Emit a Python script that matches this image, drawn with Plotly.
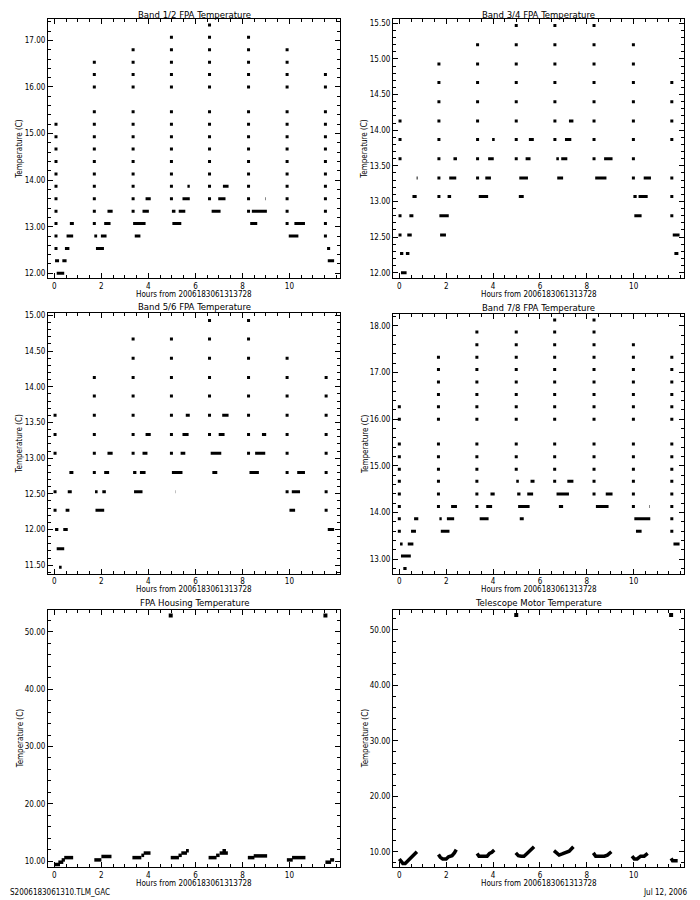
import plotly.graph_objects as go

# The page adds an 8px body margin; the figure is sized so it fills the 700x900 window.
OFF = 8
W, H = 700 - OFF, 900 - OFF
FONT = "Liberation Sans Narrow, DejaVu Sans Condensed, Liberation Sans, sans-serif"

X_TITLE = "Hours from 2006183061313728"
Y_TITLE = "Temperature (C)"
X_RANGE = [-0.27, 12.15]
X_TICKS = [0, 2, 4, 6, 8, 10]

# ---------------- Band 1/2 ----------------
b12_col_x = [0.07, 1.70, 3.35, 4.98, 6.60, 8.26, 9.90, 11.53]
b12_col_y = [
    [15.20, 14.93, 14.67, 14.40, 14.13, 13.87, 13.60, 13.33, 13.07, 12.80, 12.53],
    [16.53, 16.27, 16.00, 15.47, 15.20, 14.93, 14.67, 14.40, 14.13, 13.87, 13.60, 13.33, 13.07],
    [16.80, 16.53, 16.27, 16.00, 15.47, 15.20, 14.93, 14.67, 14.40, 14.13, 13.87, 13.60, 13.33],
    [17.07, 16.80, 16.53, 16.27, 16.00, 15.47, 15.20, 14.93, 14.67, 14.40, 14.13, 13.87, 13.60],
    [17.33, 17.07, 16.80, 16.53, 16.27, 16.00, 15.47, 15.20, 14.93, 14.67, 14.40, 14.13, 13.87, 13.60],
    [17.07, 16.80, 16.53, 16.27, 16.00, 15.47, 15.20, 14.93, 14.67, 14.40, 14.13, 13.87, 13.60, 13.33],
    [16.80, 16.53, 16.27, 16.00, 15.47, 15.20, 14.93, 14.67, 14.40, 14.13, 13.87, 13.60, 13.33, 13.07],
    [16.27, 16.00, 15.47, 15.20, 14.93, 14.67, 14.40, 14.13, 13.87, 13.60, 13.33, 13.07, 12.80],
]
b12_runs = [
    (0.03, 0.20, 12.27), (0.10, 0.42, 12.00), (0.34, 0.52, 12.27), (0.45, 0.64, 12.53), (0.52, 0.80, 12.80), (0.66, 0.83, 13.07),
    (1.77, 2.11, 12.53), (1.70, 1.82, 12.80), (1.98, 2.22, 12.80), (2.12, 2.39, 13.07), (2.26, 2.48, 13.33),
    (3.35, 3.88, 13.07), (3.42, 3.66, 12.80), (3.75, 4.02, 13.33), (3.88, 4.10, 13.60),
    (5.00, 5.15, 13.33), (5.02, 5.40, 13.07), (5.29, 5.57, 13.33), (5.45, 5.76, 13.60), (5.66, 5.76, 13.87),
    (6.69, 7.07, 13.33), (6.97, 7.28, 13.60), (7.17, 7.41, 13.87),
    (8.33, 8.63, 13.07), (8.40, 9.04, 13.33), (8.97, 8.99, 13.60),
    (9.97, 10.38, 12.80), (10.21, 10.66, 13.07),
    (11.60, 11.73, 12.53), (11.63, 11.90, 12.27),
]

# ---------------- Band 3/4 ----------------
b34_col_x = [0.03, 1.69, 3.34, 4.99, 6.64, 8.31, 9.99, 11.63]
b34_col_y = [
    [14.13, 13.87, 13.60, 12.80, 12.53],
    [14.93, 14.67, 14.40, 14.13, 13.87, 13.60, 13.33, 13.07],
    [15.20, 14.93, 14.67, 14.40, 14.13, 13.87, 13.60, 13.33],
    [15.47, 15.20, 14.93, 14.67, 14.40, 14.13, 13.87, 13.60],
    [15.47, 15.20, 14.93, 14.67, 14.40, 14.13, 13.87],
    [15.47, 15.20, 14.93, 14.67, 14.40, 14.13, 13.87, 13.60],
    [15.20, 14.93, 14.67, 14.40, 14.13, 13.87, 13.60, 13.33],
    [14.67, 14.40, 14.13, 13.87, 13.33, 13.07, 12.80],
]
b34_runs = [
    (0.03, 0.17, 12.27), (0.28, 0.43, 12.27), (0.07, 0.31, 12.00), (0.34, 0.53, 12.53), (0.43, 0.60, 12.80), (0.56, 0.74, 13.07), (0.74, 0.78, 13.33),
    (1.71, 2.11, 12.80), (1.74, 1.99, 12.53), (2.06, 2.21, 13.07), (2.13, 2.43, 13.33), (2.31, 2.46, 13.60),
    (3.39, 3.79, 13.07), (3.67, 3.91, 13.33), (3.79, 4.03, 13.60), (3.96, 4.07, 13.87),
    (5.12, 5.49, 13.33), (5.10, 5.31, 13.07), (5.39, 5.60, 13.60), (5.53, 5.74, 13.87),
    (6.70, 6.81, 13.60), (6.74, 6.99, 13.33), (6.91, 7.17, 13.60), (7.07, 7.34, 13.87), (7.24, 7.43, 14.13),
    (8.36, 8.84, 13.33), (8.74, 9.10, 13.60),
    (9.99, 10.13, 13.07), (10.03, 10.34, 12.80), (10.21, 10.60, 13.07), (10.43, 10.74, 13.33),
    (11.67, 11.96, 12.53), (11.74, 11.91, 12.27),
]

# ---------------- Band 5/6 ----------------
b56_col_x = [0.03, 1.70, 3.35, 4.98, 6.60, 8.26, 9.90, 11.56]
b56_col_y = [
    [13.60, 13.33, 13.07, 12.53, 12.27],
    [14.13, 13.87, 13.60, 13.33, 13.07, 12.80],
    [14.67, 14.40, 14.13, 13.87, 13.60, 13.33, 13.07],
    [14.67, 14.40, 14.13, 13.87, 13.60, 13.33, 13.07],
    [14.93, 14.67, 14.40, 14.13, 13.87, 13.60, 13.33],
    [14.93, 14.67, 14.40, 14.13, 13.87, 13.60, 13.33, 13.07],
    [14.40, 14.13, 13.87, 13.60, 13.33, 13.07, 12.80, 12.53],
    [14.13, 13.87, 13.60, 13.33, 13.07, 12.80, 12.53, 12.27],
]
b56_runs = [
    (0.03, 0.17, 12.00), (0.10, 0.42, 11.73), (0.20, 0.31, 11.47), (0.38, 0.57, 12.00), (0.48, 0.64, 12.27), (0.57, 0.74, 12.53), (0.64, 0.81, 12.80),
    (1.73, 1.84, 12.53), (1.75, 2.12, 12.27), (2.04, 2.19, 12.53), (2.12, 2.33, 12.80), (2.26, 2.48, 13.07),
    (3.35, 3.49, 12.80), (3.39, 3.75, 12.53), (3.64, 3.88, 12.80), (3.75, 3.96, 13.07), (3.88, 4.10, 13.33),
    (5.00, 5.45, 12.80), (5.16, 5.17, 12.53), (5.37, 5.57, 13.07), (5.45, 5.71, 13.33), (5.59, 5.76, 13.60),
    (6.65, 7.10, 13.07), (6.72, 6.93, 12.80), (6.99, 7.24, 13.33), (7.14, 7.41, 13.60),
    (8.30, 8.70, 12.80), (8.54, 8.97, 13.07), (8.83, 9.01, 13.33),
    (10.10, 10.45, 12.53), (10.00, 10.24, 12.27), (10.33, 10.66, 12.80),
    (11.63, 11.90, 12.00),
]

# ---------------- Band 7/8 ----------------
b78_col_x = [0.00, 1.67, 3.31, 4.99, 6.63, 8.31, 9.99, 11.63]
b78_col_y = [
    [16.27, 16.00, 15.47, 15.20, 14.93, 14.67, 14.40, 14.13, 13.87, 13.60],
    [17.33, 17.07, 16.80, 16.53, 16.27, 16.00, 15.47, 15.20, 14.93, 14.67, 14.40, 14.13],
    [17.87, 17.60, 17.33, 17.07, 16.80, 16.53, 16.27, 16.00, 15.47, 15.20, 14.93, 14.67, 14.40, 14.13],
    [17.87, 17.60, 17.33, 17.07, 16.80, 16.53, 16.27, 16.00, 15.47, 15.20, 14.93],
    [18.13, 17.87, 17.60, 17.33, 17.07, 16.80, 16.53, 16.27, 16.00, 15.47, 15.20, 14.93, 14.67],
    [18.13, 17.87, 17.60, 17.33, 17.07, 16.80, 16.53, 16.27, 16.00, 15.47, 15.20, 14.93, 14.67, 14.40],
    [17.60, 17.33, 17.07, 16.80, 16.53, 16.27, 16.00, 15.47, 15.20, 14.93, 14.67, 14.40, 14.13],
    [17.33, 17.07, 16.80, 16.53, 16.27, 16.00, 15.47, 15.20, 14.93, 14.67, 14.40, 14.13, 13.87, 13.60],
]
b78_runs = [
    (0.03, 0.14, 13.33), (0.07, 0.49, 13.07), (0.17, 0.31, 12.80), (0.36, 0.60, 13.33), (0.50, 0.71, 13.60), (0.63, 0.81, 13.87),
    (1.71, 1.81, 13.87), (1.77, 2.14, 13.60), (2.03, 2.34, 13.87), (2.21, 2.46, 14.13),
    (3.43, 3.81, 13.87), (3.71, 3.96, 14.13), (3.89, 4.07, 14.40),
    (4.99, 5.10, 14.67), (5.03, 5.17, 14.40), (5.07, 5.56, 14.13), (5.14, 5.31, 13.87), (5.46, 5.71, 14.40), (5.60, 5.77, 14.67),
    (6.71, 7.24, 14.40), (6.81, 6.99, 14.13), (7.17, 7.43, 14.67),
    (8.39, 8.93, 14.13), (8.81, 9.10, 14.40),
    (10.03, 10.71, 13.87), (10.10, 10.34, 13.60), (10.66, 10.68, 14.13),
    (11.70, 11.96, 13.33),
]

# ---------------- FPA Housing ----------------
hous_runs = [
    (0.00, 0.24, 9.4), (0.17, 0.38, 9.8), (0.31, 0.45, 10.2), (0.42, 0.80, 10.6),
    (1.70, 2.00, 10.2), (2.00, 2.43, 10.8),
    (3.32, 3.70, 10.6), (3.70, 3.82, 11.0), (3.80, 4.09, 11.4),
    (4.95, 5.30, 10.6), (5.28, 5.42, 11.0), (5.40, 5.64, 11.4), (5.60, 5.72, 11.8),
    (6.56, 6.90, 10.6), (6.88, 7.03, 11.0), (7.03, 7.38, 11.4), (7.15, 7.30, 11.8),
    (8.23, 8.51, 10.6), (8.48, 9.05, 10.9),
    (9.89, 10.14, 10.2), (10.11, 10.68, 10.6),
    (11.53, 11.77, 9.8), (11.73, 11.90, 10.2),
]
hous_out_x = [4.95, 11.53]
hous_out_y = [52.9, 52.9]

# ---------------- Telescope Motor ----------------
motor_x = [
    [0.00, 0.08, 0.15, 0.25, 0.35, 0.45, 0.55, 0.65, 0.75],
    [1.67, 1.75, 1.85, 2.00, 2.10, 2.25, 2.35, 2.43],
    [3.32, 3.40, 3.55, 3.75, 3.85, 3.95, 4.05],
    [4.97, 5.08, 5.20, 5.32, 5.45, 5.60, 5.75],
    [6.60, 6.72, 6.82, 6.95, 7.10, 7.25, 7.43],
    [8.28, 8.38, 8.55, 8.75, 8.88, 9.05],
    [9.93, 10.03, 10.15, 10.30, 10.45, 10.60],
    [11.60, 11.66, 11.75, 11.88],
]
motor_y = [
    [8.7, 8.3, 7.9, 7.9, 8.3, 8.7, 9.0, 9.4, 10.0],
    [9.5, 9.0, 8.7, 8.7, 9.1, 9.3, 9.8, 10.4],
    [9.7, 9.2, 9.2, 9.2, 9.7, 9.9, 10.3],
    [9.8, 9.3, 9.2, 9.2, 9.7, 10.2, 10.9],
    [10.2, 9.7, 9.4, 9.6, 9.8, 10.1, 10.9],
    [9.8, 9.2, 9.2, 9.2, 9.4, 10.0],
    [9.2, 8.7, 8.7, 9.2, 9.2, 9.7],
    [8.8, 8.4, 8.4, 8.4],
]
motor_out_x = [4.99, 11.60]
motor_out_y = [52.7, 52.7]

# ---------------- layout geometry (page pixels) ----------------
panels = [
    dict(title="Band 1/2 FPA Temperature", box=(48, 340, 17, 277), yr=[11.89, 17.46], dt=1, mdt=0.2),
    dict(title="Band 3/4 FPA Temperature", box=(393, 684, 17, 277), yr=[11.92, 15.56], dt=0.5, mdt=0.1),
    dict(title="Band 5/6 FPA Temperature", box=(48, 340, 312, 573), yr=[11.38, 15.03], dt=0.5, mdt=0.1),
    dict(title="Band 7/8 FPA Temperature", box=(393, 684, 313, 573), yr=[12.69, 18.25], dt=1, mdt=0.2),
    dict(title="FPA Housing Temperature", box=(48, 340, 609, 867), yr=[8.95, 53.9], dt=10, mdt=2),
    dict(title="Telescope Motor Temperature", box=(393, 684, 609, 867), yr=[7.24, 53.66], dt=10, mdt=2),
]


def px(x):
    return (x - OFF) / W


def py(y):
    return 1 - (y - OFF) / H


fig = go.Figure()


def add_cols(i, cx, cy):
    xs, ys = [], []
    for x, col in zip(cx, cy):
        for v in col:
            xs.append(x)
            ys.append(v)
    sfx = "" if i == 1 else str(i)
    fig.add_trace(go.Scatter(x=xs, y=ys, mode="markers", xaxis="x" + sfx, yaxis="y" + sfx,
                             marker=dict(symbol="square", size=3, color="black", line=dict(width=0)),
                             showlegend=False, hoverinfo="skip"))


def add_runs(i, runs, width=3):
    xs, ys = [], []
    for x0, x1, v in runs:
        xs += [x0, x1, None]
        ys += [v, v, None]
    sfx = "" if i == 1 else str(i)
    fig.add_trace(go.Scatter(x=xs, y=ys, mode="lines", xaxis="x" + sfx, yaxis="y" + sfx,
                             line=dict(color="black", width=width),
                             showlegend=False, hoverinfo="skip"))


add_cols(1, b12_col_x, b12_col_y); add_runs(1, b12_runs)
add_cols(2, b34_col_x, b34_col_y); add_runs(2, b34_runs)
add_cols(3, b56_col_x, b56_col_y); add_runs(3, b56_runs)
add_cols(4, b78_col_x, b78_col_y); add_runs(4, b78_runs)
add_runs(5, hous_runs, width=3.5)
fig.add_trace(go.Scatter(x=hous_out_x, y=hous_out_y, mode="markers", xaxis="x5", yaxis="y5",
                         marker=dict(symbol="square", size=4, color="black"), showlegend=False, hoverinfo="skip"))
mx, my = [], []
for xs, ys in zip(motor_x, motor_y):
    mx += xs + [None]
    my += ys + [None]
fig.add_trace(go.Scatter(x=mx, y=my, mode="lines", xaxis="x6", yaxis="y6",
                         line=dict(color="black", width=3.5), showlegend=False, hoverinfo="skip"))
fig.add_trace(go.Scatter(x=motor_out_x, y=motor_out_y, mode="markers", xaxis="x6", yaxis="y6",
                         marker=dict(symbol="square", size=4, color="black"), showlegend=False, hoverinfo="skip"))

axis_common = dict(showline=True, linecolor="black", linewidth=1, mirror="allticks", ticks="inside",
                   tickcolor="black", tickwidth=1, showgrid=False, zeroline=False,
                   tickfont=dict(family=FONT, size=8, color="black"))

annotations = []
layout = {}
for i, p in enumerate(panels, start=1):
    l, r, t, b = p["box"]
    sfx = "" if i == 1 else str(i)
    layout["xaxis" + sfx] = dict(axis_common, domain=[px(l), px(r)], range=X_RANGE, anchor="y" + sfx,
                                 tickvals=X_TICKS, ticklen=5,
                                 minor=dict(dtick=0.5, tick0=0, ticklen=3, ticks="inside", tickcolor="black"))
    layout["yaxis" + sfx] = dict(axis_common, domain=[py(b), py(t)], range=p["yr"], anchor="x" + sfx,
                                 dtick=p["dt"], tick0=0, tickformat=".2f", ticklen=5,
                                 minor=dict(dtick=p["mdt"], tick0=0, ticklen=3, ticks="inside", tickcolor="black"))
    cx = px((l + r) / 2)
    annotations.append(dict(text=p["title"], x=cx, y=py(max(t - 7, 13)), xref="paper", yref="paper",
                            showarrow=False, xanchor="center", yanchor="middle",
                            font=dict(family=FONT, size=9.5, color="black")))
    annotations.append(dict(text=X_TITLE, x=cx, y=py(b + 16), xref="paper", yref="paper",
                            showarrow=False, xanchor="center", yanchor="middle",
                            font=dict(family=FONT, size=8, color="black")))
    annotations.append(dict(text=Y_TITLE, x=px(l - 28), y=py((t + b) / 2), xref="paper", yref="paper",
                            showarrow=False, xanchor="center", yanchor="middle", textangle=-90,
                            font=dict(family=FONT, size=8, color="black")))

annotations.append(dict(text="S2006183061310.TLM_GAC", x=px(OFF), y=py(892), xref="paper", yref="paper",
                        showarrow=False, xanchor="left", yanchor="middle",
                        font=dict(family=FONT, size=8, color="black")))
annotations.append(dict(text="Jul 12, 2006", x=px(689), y=py(892), xref="paper", yref="paper",
                        showarrow=False, xanchor="right", yanchor="middle",
                        font=dict(family=FONT, size=8, color="black")))

fig.update_layout(width=W, height=H, margin=dict(l=0, r=0, t=0, b=0),
                  paper_bgcolor="white", plot_bgcolor="white", annotations=annotations,
                  **layout)

fig.write_html("out.html")
